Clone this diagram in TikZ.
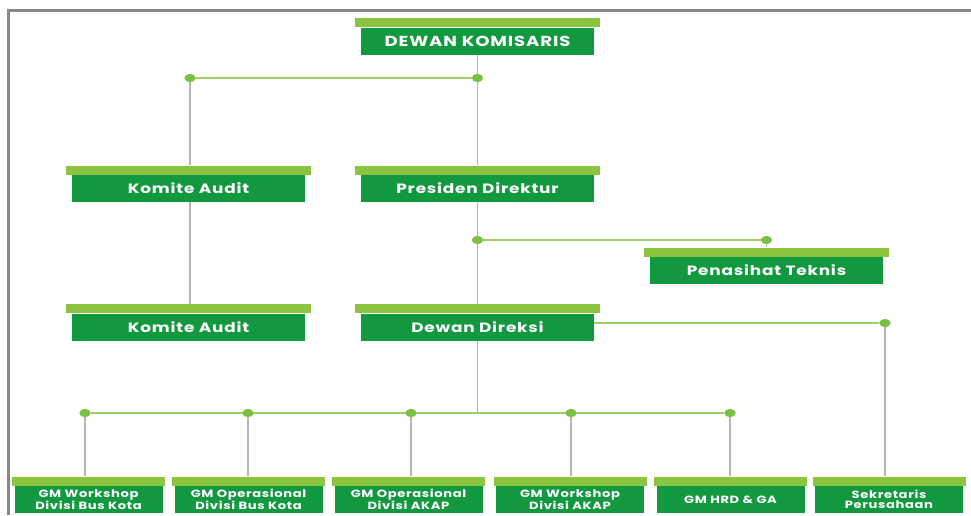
\documentclass[tikz,border=0pt]{standalone}
\usepackage{fontspec}
\setmainfont{Poppins}
\newfontfamily\orgfont{Poppins}[FakeStretch=1.25, LetterSpace=6]
\usepackage{tikz}
\usetikzlibrary{positioning, calc, shapes.geometric}

\definecolor{boxgreen}{RGB}{18,153,63}
\definecolor{bargreen}{RGB}{139,197,63}
\definecolor{jointgreen}{RGB}{122,193,67}
\definecolor{linegreen}{RGB}{160,205,100}
\definecolor{linegray}{RGB}{182,182,170}
\definecolor{framegray}{RGB}{135,135,135}

\tikzset{
	orgbox/.style={fill=boxgreen, text=white, inner sep=0pt, align=center,
		minimum width=233pt, minimum height=27pt,
		font=\orgfont\bfseries\fontsize{13.5}{14}\selectfont},
	orgbar/.style={fill=bargreen, inner sep=0pt, anchor=south,
		minimum width=245pt, minimum height=9pt},
	smallbox/.style={orgbox, minimum width=148pt,
		font=\orgfont\bfseries\fontsize{10.5}{10.5}\selectfont},
	smallbar/.style={orgbar, minimum width=153pt},
	joint/.style={ellipse, fill=jointgreen, inner sep=0pt,
		minimum width=11pt, minimum height=8pt},
	hline/.style={draw=linegreen, line width=1.5pt},
	vline/.style={draw=linegray, line width=1.3pt}
}

\begin{document}
\begin{tikzpicture}[x=1pt, y=-1pt]
	
	\useasboundingbox (0,0) rectangle (971,515);
	\draw[framegray, line width=2.5pt] (8.7,515) -- (8.7,10.5) -- (971,10.5);
	
	%// top and middle boxes
	\node[orgbox, font=\orgfont\bfseries\fontsize{14.5}{15}\selectfont] (dk) at (477.5,41) {DEWAN KOMISARIS};
	\node[orgbox] (ka1) at (188.5,188.5) {Komite Audit};
	\node[orgbox] (pd) at (477.5,188.5) {Presiden Direktur};
	\node[orgbox] (pt) at (766.5,270.5) {Penasihat Teknis};
	\node[orgbox] (ka2) at (188.5,327) {Komite Audit};
	\node[orgbox] (dd) at (477.5,327) {Dewan Direksi};
	
	\foreach \n in {dk, ka1, pd, pt, ka2, dd}
	\node[orgbar] (\n-bar) at (\n.north) {};
	
	%// bottom row
	\foreach \n/\x/\t in {b1/88.5/{GM Workshop\\Divisi Bus Kota},
		b2/248.5/{GM Operasional\\Divisi Bus Kota},
		b3/408.5/{GM Operasional\\Divisi AKAP},
		b4/570/{GM Workshop\\Divisi AKAP},
		b5/730.5/{GM HRD \& GA},
		b6/889/{Sekretaris\\Perusahaan}}
	{
		\node[smallbox] (\n) at (\x,499.5) {\t};
		\node[smallbar] (\n-bar) at (\n.north) {};
	}
	
	%// joints
	\node[joint] (j0) at (190,78) {};
	\node[joint] (j1) at (477.5,78) {};
	\node[joint] (j2) at (477.5,240) {};
	\node[joint] (j3) at (766.5,240) {};
	\node[joint] (j4) at (885,323) {};
	\foreach \n/\x in {d1/85, d2/248, d3/411, d4/571, d5/730}
	\node[joint] (\n) at (\x,413) {};
	
	%// connectors
	\draw[vline] (dk.south) -- (pd-bar.north);
	\draw[vline] (j0) -- (j0 |- ka1-bar.north);
	\draw[vline] (ka1.south -| j0) -- (j0 |- ka2-bar.north);
	\draw[vline] (pd.south) -- (dd-bar.north);
	\draw[vline] (j3) -- (pt-bar.north);
	\draw[vline] (j4) -- (j4 |- b6-bar.north);
	\draw[vline] (dd.south) -- (dd.south |- d1);
	\foreach \n/\m in {d1/b1, d2/b2, d3/b3, d4/b4, d5/b5}
	\draw[vline] (\n) -- (\n |- \m-bar.north);
	
	\draw[hline] (j0) -- (j1);
	\draw[hline] (j2) -- (j3);
	\draw[hline] (dd.east |- j4) -- (j4);
	\draw[hline] (d1) -- (d5);
	
	\foreach \n in {j0, j1, j2, j3, j4, d1, d2, d3, d4, d5}
	\node[joint] at (\n) {};
	
\end{tikzpicture}
\end{document}
